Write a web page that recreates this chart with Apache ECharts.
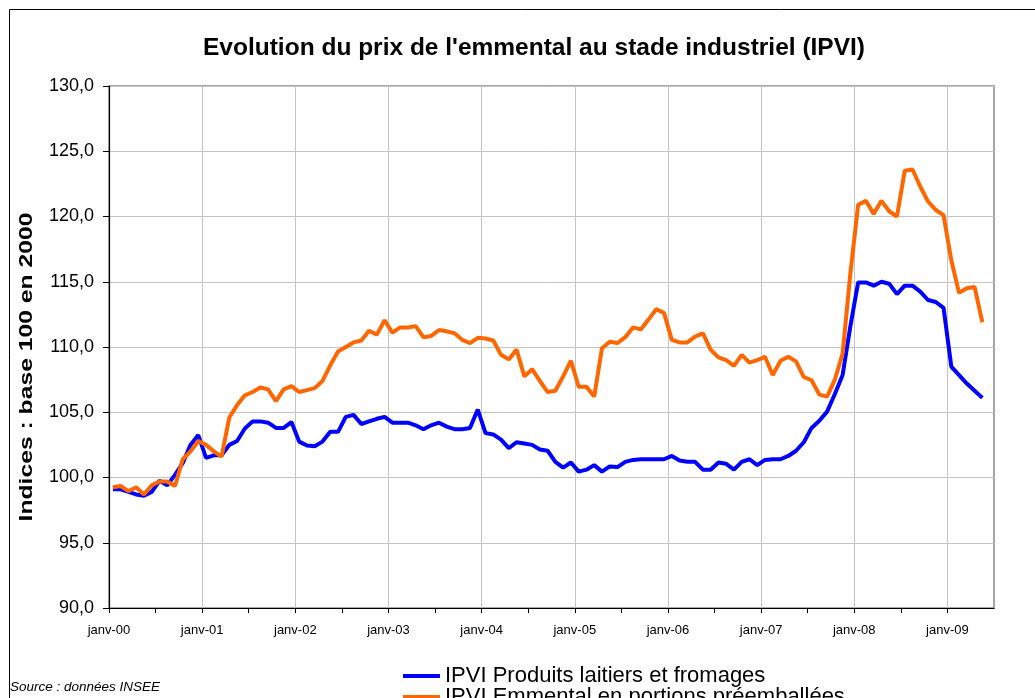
<!DOCTYPE html>
<html lang="fr">
<head>
<meta charset="utf-8">
<title>Evolution du prix de l'emmental au stade industriel (IPVI)</title>
<script src="https://cdn.jsdelivr.net/npm/echarts@6/dist/echarts.min.js"></script>
<style>
  html, body { margin: 0; padding: 0; background: #fff; }
  #chart { width: 1035px; height: 698px; }
</style>
</head>
<body>
<div id="chart"></div>
<script>
// libellés des graduations (un par an, janvier)
const yearLabels = ['janv-00', 'janv-01', 'janv-02', 'janv-03', 'janv-04', 'janv-05', 'janv-06', 'janv-07', 'janv-08', 'janv-09']

const seriesNames = ['IPVI Produits laitiers et fromages', 'IPVI Emmental en portions préemballées']

// IPVI Produits laitiers et fromages, mensuel, janv-00 -> mai-09
const laitiers = [
  99.1, 99.1, 98.9, 98.7, 98.6, 98.9, 99.75, 99.4, 100.2, 101.1, 102.5, 103.25,
  101.5, 101.7, 101.7, 102.5, 102.8, 103.75, 104.3, 104.3, 104.2, 103.8, 103.8, 104.25,
  102.75, 102.45, 102.4, 102.75, 103.5, 103.5, 104.65, 104.8, 104.1, 104.3, 104.5, 104.65,
  104.2, 104.2, 104.2, 104.0, 103.7, 104.0, 104.2, 103.9, 103.7, 103.7, 103.8, 105.2,
  103.4, 103.3, 102.9, 102.25, 102.7, 102.6, 102.5, 102.15, 102.05, 101.2, 100.75, 101.15,
  100.45, 100.6, 100.95, 100.45, 100.85, 100.8, 101.2, 101.35, 101.4, 101.4, 101.4, 101.4,
  101.65, 101.3, 101.2, 101.2, 100.6, 100.6, 101.15, 101.05, 100.6, 101.2, 101.4, 100.95,
  101.35, 101.4, 101.4, 101.65, 102.05, 102.7, 103.8, 104.35, 105.05, 106.4, 107.85, 111.6,
  114.95, 114.95, 114.7, 115.0, 114.85, 114.05, 114.7, 114.7, 114.25, 113.6, 113.45, 113.0,
  108.5, 107.85, 107.2, 106.65, 106.1
]

// IPVI Emmental en portions préemballées
const emmental = [
  99.25, 99.35, 98.95, 99.25, 98.7, 99.4, 99.7, 99.7, 99.35, 101.4, 102.0, 102.8,
  102.5, 102.0, 101.6, 104.6, 105.55, 106.3, 106.55, 106.9, 106.75, 105.85, 106.75, 107.0,
  106.55, 106.7, 106.85, 107.4, 108.6, 109.65, 110.0, 110.35, 110.5, 111.25, 110.95, 112.05,
  111.1, 111.5, 111.5, 111.6, 110.75, 110.85, 111.3, 111.2, 111.05, 110.55, 110.3, 110.7,
  110.65, 110.5, 109.4, 109.05, 109.8, 107.75, 108.3, 107.4, 106.55, 106.65, 107.75, 108.95,
  106.95, 106.95, 106.2, 109.9, 110.4, 110.3, 110.75, 111.5, 111.35, 112.1, 112.9, 112.6,
  110.55, 110.35, 110.35, 110.8, 111.05, 109.8, 109.2, 109.0, 108.55, 109.4, 108.8, 109.0,
  109.25, 107.85, 108.95, 109.25, 108.9, 107.7, 107.45, 106.35, 106.2, 107.5, 109.5, 115.65,
  120.9, 121.2, 120.2, 121.2, 120.4, 120.0, 123.5, 123.6, 122.3, 121.15, 120.5, 120.1,
  116.65, 114.15, 114.5, 114.6, 111.9
]

const FONT = '"Liberation Sans", Arial, sans-serif'

// chaque mois est placé au milieu de son intervalle (axe en mois depuis janv-00)
const toPoints = arr => arr.map((v, i) => [i + 0.5, v])

// une légende par série, empilées (la seconde est coupée en bas comme dans l'original)
const legendRow = (name, top) => ({
  orient: 'vertical',
  left: 398,
  top: top,
  height: 40,
  icon: 'rect',
  itemWidth: 37,
  itemHeight: 4,
  textStyle: { fontFamily: FONT, fontSize: 22, color: '#000' },
  data: [name]
})

const chart = echarts.init(document.getElementById('chart'))

chart.setOption({
  animation: false,
  backgroundColor: '#fff',
  color: ['#0000ff', '#ff6600'],
  title: {
    text: "Evolution du prix de l'emmental au stade industriel (IPVI)",
    left: 529,
    top: 31,
    textAlign: 'center',
    textStyle: { fontFamily: FONT, fontSize: 24.5, fontWeight: 'bold', color: '#000' }
  },
  legend: [
    legendRow(seriesNames[0], 660),
    legendRow(seriesNames[1], 681)
  ],
  grid: {
    left: 109,
    right: 41,
    top: 86,
    bottom: 90,
    show: true,
    borderColor: '#8a8a8a',
    borderWidth: 1.5,
    containLabel: false
  },
  xAxis: {
    type: 'value',
    min: 0,
    max: 114,
    interval: 6,
    axisLine: { lineStyle: { color: '#000', width: 1.2 } },
    axisTick: { length: 5, lineStyle: { color: '#000' } },
    axisLabel: {
      fontFamily: FONT,
      fontSize: 13,
      color: '#000',
      margin: 16,
      showMaxLabel: false,
      formatter: v => (v % 12 === 0 ? yearLabels[v / 12] || '' : '')
    },
    // une ligne verticale par an seulement
    splitLine: { show: true, lineStyle: { color: ['#c4c4c4', 'rgba(0,0,0,0)'], width: 1 } }
  },
  yAxis: {
    type: 'value',
    min: 90,
    max: 130,
    interval: 5,
    axisLine: { show: true, lineStyle: { color: '#000', width: 1.2 } },
    axisTick: { show: true, length: 6, lineStyle: { color: '#000' } },
    axisLabel: {
      fontFamily: FONT,
      fontSize: 18,
      color: '#000',
      margin: 15,
      formatter: v => v.toFixed(1).replace('.', ',')
    },
    splitLine: { lineStyle: { color: '#c4c4c4', width: 1 } }
  },
  graphic: [
    {
      // cadre extérieur de la zone du graphique
      type: 'rect',
      shape: { x: 9.5, y: 9.5, width: 1040, height: 700 },
      style: { fill: 'none', stroke: '#000', lineWidth: 1 },
      silent: true
    },
    {
      type: 'text',
      x: 27,
      y: 367,
      rotation: Math.PI / 2,
      scaleX: 1.3,
      style: {
        text: 'Indices : base 100 en 2000',
        fontFamily: FONT,
        fontSize: 19,
        fontWeight: 'bold',
        fill: '#000',
        textAlign: 'center',
        textVerticalAlign: 'middle'
      }
    },
    {
      type: 'text',
      left: 10,
      top: 680,
      style: {
        text: 'Source : données INSEE',
        fontFamily: FONT,
        fontSize: 13.5,
        fontStyle: 'italic',
        fill: '#000'
      }
    }
  ],
  series: [
    {
      name: seriesNames[0],
      type: 'line',
      data: toPoints(laitiers),
      showSymbol: false,
      symbol: 'none',
      lineStyle: { width: 4, color: '#0000ff' },
      itemStyle: { color: '#0000ff' }
    },
    {
      name: seriesNames[1],
      type: 'line',
      data: toPoints(emmental),
      showSymbol: false,
      symbol: 'none',
      lineStyle: { width: 4, color: '#ff6600' },
      itemStyle: { color: '#ff6600' }
    }
  ]
})

window.addEventListener('resize', () => chart.resize())
</script>
</body>
</html>
